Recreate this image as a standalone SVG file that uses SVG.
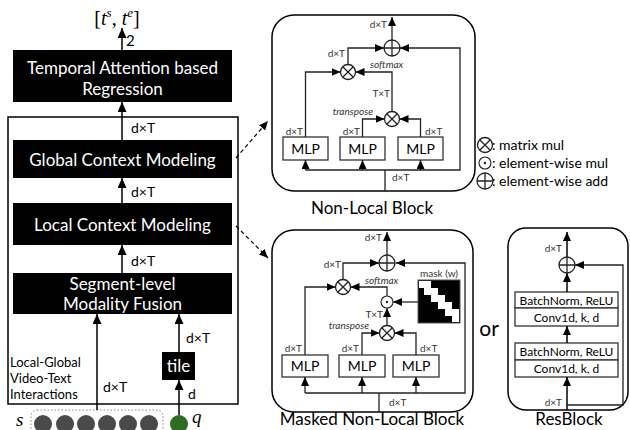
<svg xmlns="http://www.w3.org/2000/svg" width="630" height="430" viewBox="0 0 630 430">
<style>
text{font-family:Lato,"Open Sans","Liberation Sans",sans-serif;fill:#000}
.blk{fill:#000}
.wt{fill:#fff;font-size:17px;text-anchor:middle}
.ln{stroke:#000;stroke-width:1.5;fill:none}
.sl{stroke:#222;stroke-width:1.3;fill:none}
.lbl{font-size:14px}
.sm{font-size:10px;fill:#333}
.it{font-size:10px;font-style:italic;fill:#333}
.box{fill:#fff;stroke:#333;stroke-width:1.3}
.mlp{font-size:14px;text-anchor:middle}
.rb{font-size:12px;text-anchor:middle}
.frame{fill:none;stroke:#000;stroke-width:1.5}
.cap{font-size:17px;text-anchor:middle}
.dash{stroke:#000;stroke-width:1.2;stroke-dasharray:4,3;fill:none}
.end{text-anchor:end}
.leg{font-size:14px}
</style>
<defs>
<marker id="ab" markerUnits="userSpaceOnUse" markerWidth="10" markerHeight="9" refX="10" refY="4.5" orient="auto"><path d="M0,0 L10,4.5 L0,9 z" fill="#000"/></marker>
<marker id="as" markerUnits="userSpaceOnUse" markerWidth="9" markerHeight="8" refX="9" refY="4" orient="auto"><path d="M0,0 L9,4 L0,8 z" fill="#000"/></marker>
<g id="otimes"><circle r="7.5" fill="#fff" stroke="#222" stroke-width="1.3"/><path d="M-5.3,-5.3 L5.3,5.3 M-5.3,5.3 L5.3,-5.3" stroke="#222" stroke-width="1.3"/></g>
<g id="oplus"><circle r="8" fill="#fff" stroke="#222" stroke-width="1.3"/><path d="M-8,0 L8,0 M0,-8 L0,8" stroke="#222" stroke-width="1.3"/></g>
<g id="odot"><circle r="6" fill="#fff" stroke="#222" stroke-width="1.1"/><circle r="1.2" fill="#222"/></g>
</defs>

<g id="output">
<text x="117" y="25" text-anchor="middle" style="font-family:'Liberation Serif',serif;font-size:20px">[<tspan font-style="italic">t</tspan><tspan font-style="italic" font-size="13" dy="-8">s</tspan><tspan dy="8">, </tspan><tspan font-style="italic">t</tspan><tspan font-style="italic" font-size="13" dy="-8">e</tspan><tspan dy="8">]</tspan></text>
</g>

<g id="regression">
<rect class="blk" x="13" y="50" width="219" height="52"/>
<text class="wt" x="122.5" y="74">Temporal Attention based</text>
<text class="wt" x="122.5" y="95">Regression</text>
</g>

<g id="interactions">
<rect class="frame" x="8" y="117" width="230" height="287"/>
<text x="10" y="367" font-size="13">Local-Global</text>
<text x="10" y="383" font-size="13">Video-Text</text>
<text x="10" y="399" font-size="13">Interactions</text>
</g>

<g id="global">
<rect class="blk" x="13" y="140" width="219" height="38"/>
<text class="wt" x="122.5" y="166">Global Context Modeling</text>
</g>

<g id="local">
<rect class="blk" x="13" y="203" width="219" height="42"/>
<text class="wt" x="122.5" y="231">Local Context Modeling</text>
</g>

<g id="fusion">
<rect class="blk" x="13" y="273" width="219" height="41"/>
<text class="wt" x="122.5" y="290">Segment-level</text>
<text class="wt" x="122.5" y="310">Modality Fusion</text>
</g>

<g id="tile">
<rect class="blk" x="162" y="352" width="33" height="28"/>
<text class="wt" x="178.5" y="372">tile</text>
</g>

<g id="inputs">
<text x="16" y="426" style="font-family:'Liberation Serif',serif;font-size:19px;font-style:italic">s</text>
<rect x="31" y="410" width="132" height="28" rx="6" fill="none" stroke="#888" stroke-width="1" stroke-dasharray="1.5,2"/>
<circle cx="43" cy="424" r="9" fill="#4a4a4a"/>
<circle cx="65" cy="424" r="9" fill="#4a4a4a"/>
<circle cx="86" cy="424" r="9" fill="#4a4a4a"/>
<circle cx="107" cy="424" r="9" fill="#4a4a4a"/>
<circle cx="128" cy="424" r="9" fill="#4a4a4a"/>
<circle cx="149" cy="424" r="9" fill="#4a4a4a"/>
<circle cx="179" cy="424" r="9" fill="#2f6b20"/>
<text x="192" y="423" style="font-family:'Liberation Serif',serif;font-size:19px;font-style:italic">q</text>
</g>

<g id="connectors">
<line class="ln" x1="122" y1="50" x2="122" y2="28" marker-end="url(#ab)"/>
<text x="126" y="46" font-size="15">2</text>
<line class="ln" x1="122" y1="140" x2="122" y2="102" marker-end="url(#ab)"/>
<text class="lbl" x="131" y="133">d×T</text>
<line class="ln" x1="122" y1="203" x2="122" y2="178" marker-end="url(#ab)"/>
<text class="lbl" x="131" y="197">d×T</text>
<line class="ln" x1="122" y1="273" x2="122" y2="245" marker-end="url(#ab)"/>
<text class="lbl" x="131" y="266">d×T</text>
<line class="ln" x1="97" y1="410" x2="97" y2="314" marker-end="url(#ab)"/>
<text class="lbl" x="103" y="392">d×T</text>
<line class="ln" x1="179" y1="415" x2="179" y2="380" marker-end="url(#ab)"/>
<text class="lbl" x="188" y="399">d</text>
<line class="ln" x1="179" y1="352" x2="179" y2="314" marker-end="url(#ab)"/>
<text class="lbl" x="186" y="343">d×T</text>
<line class="dash" x1="236" y1="158" x2="268" y2="121" marker-end="url(#as)"/>
<line class="dash" x1="236" y1="226" x2="268" y2="258" marker-end="url(#as)"/>
</g>

<g id="nonlocal">
<rect class="frame" x="272" y="15" width="203" height="176" rx="22"/>
<rect class="box" x="283" y="137" width="45" height="23"/>
<rect class="box" x="340" y="137" width="45" height="23"/>
<rect class="box" x="398" y="137" width="45" height="23"/>
<text class="mlp" x="305.5" y="154">MLP</text>
<text class="mlp" x="362.5" y="154">MLP</text>
<text class="mlp" x="420.5" y="154">MLP</text>
<path class="sl" d="M385,191 V170 M305.5,170 H460 V48 H400" marker-end="url(#as)"/>
<line class="sl" x1="305.5" y1="170" x2="305.5" y2="160" marker-end="url(#as)"/>
<line class="sl" x1="362.5" y1="170" x2="362.5" y2="160" marker-end="url(#as)"/>
<line class="sl" x1="420.5" y1="170" x2="420.5" y2="160" marker-end="url(#as)"/>
<path class="sl" d="M305.5,137 V72 H340.5" marker-end="url(#as)"/>
<path class="sl" d="M362.5,137 V119 H384.5" marker-end="url(#as)"/>
<path class="sl" d="M420.5,137 V119 H399.5" marker-end="url(#as)"/>
<path class="sl" d="M392,111.5 V72 H355.5" marker-end="url(#as)"/>
<path class="sl" d="M348,64.5 V48 H384" marker-end="url(#as)"/>
<line class="sl" x1="392" y1="40" x2="392" y2="17" marker-end="url(#as)"/>
<use href="#otimes" x="348" y="72"/>
<use href="#otimes" x="392" y="119"/>
<use href="#oplus" x="392" y="48"/>
<text class="sm end" x="387" y="28">d×T</text>
<text class="sm end" x="345" y="57">d×T</text>
<text class="it" x="370" y="68">softmax</text>
<text class="sm end" x="390" y="97">T×T</text>
<text class="it end" x="373" y="115">transpose</text>
<text class="sm end" x="303" y="135">d×T</text>
<text class="sm end" x="360" y="135">d×T</text>
<text class="sm" x="425" y="135">d×T</text>
<text class="sm" x="392" y="181">d×T</text>
<text class="cap" x="372" y="214">Non-Local Block</text>
</g>

<g id="legend">
<use href="#otimes" x="485" y="145"/>
<text class="leg" x="492" y="150">: matrix mul</text>
<use href="#odot" x="485" y="163"/>
<text class="leg" x="492" y="168">: element-wise mul</text>
<use href="#oplus" x="485" y="181"/>
<text class="leg" x="492" y="186">: element-wise add</text>
</g>

<g id="masked">
<rect class="frame" x="272" y="230" width="201" height="182" rx="22"/>
<rect class="box" x="282" y="355" width="46" height="22"/>
<rect class="box" x="339" y="355" width="46" height="22"/>
<rect class="box" x="393" y="355" width="46" height="22"/>
<text class="mlp" x="305" y="371">MLP</text>
<text class="mlp" x="362" y="371">MLP</text>
<text class="mlp" x="416" y="371">MLP</text>
<path class="sl" d="M379,412 V393 M305,393 H465 V263 H396" marker-end="url(#as)"/>
<line class="sl" x1="305" y1="393" x2="305" y2="377" marker-end="url(#as)"/>
<line class="sl" x1="362" y1="393" x2="362" y2="377" marker-end="url(#as)"/>
<line class="sl" x1="416" y1="393" x2="416" y2="377" marker-end="url(#as)"/>
<path class="sl" d="M305,355 V287 H335.5" marker-end="url(#as)"/>
<path class="sl" d="M362,355 V333 H379.5" marker-end="url(#as)"/>
<path class="sl" d="M416,355 V333 H394.5" marker-end="url(#as)"/>
<line class="sl" x1="387" y1="325.5" x2="387" y2="308" marker-end="url(#as)"/>
<path class="sl" d="M387,296 V287 H350.5" marker-end="url(#as)"/>
<line class="sl" x1="418" y1="302" x2="393" y2="302" marker-end="url(#as)"/>
<path class="sl" d="M343,279.5 V263 H379" marker-end="url(#as)"/>
<line class="sl" x1="387" y1="255" x2="387" y2="232" marker-end="url(#as)"/>
<use href="#otimes" x="343" y="287"/>
<use href="#otimes" x="387" y="333"/>
<use href="#odot" x="387" y="302"/>
<use href="#oplus" x="387" y="263"/>
<g id="mask">
<rect x="418" y="280" width="42" height="43" fill="#000" stroke="#555" stroke-width="1"/>
<path fill="#fff" d="M419,281 H431 V288 H438 V295 H445 V302 H452 V309 H459 V322 H452 V316 H445 V309 H438 V302 H431 V295 H424 V288 H419 Z"/>
</g>
<text class="sm" x="439" y="277" text-anchor="middle" font-size="11">mask (w)</text>
<text class="sm end" x="382" y="241">d×T</text>
<text class="sm end" x="341" y="268">d×T</text>
<text class="it" x="365" y="284">softmax</text>
<text class="sm end" x="383" y="318">T×T</text>
<text class="it end" x="369" y="329">transpose</text>
<text class="sm end" x="302" y="352">d×T</text>
<text class="sm end" x="359" y="352">d×T</text>
<text class="sm" x="420" y="352">d×T</text>
<text class="sm" x="389" y="406">d×T</text>
<text class="cap" x="372" y="425">Masked Non-Local Block</text>
</g>

<text x="489" y="336" font-size="21" text-anchor="middle">or</text>

<g id="resblock">
<rect class="frame" x="508" y="228" width="120" height="182" rx="18"/>
<rect class="box" x="515" y="292" width="103" height="16"/>
<rect class="box" x="515" y="308" width="103" height="18"/>
<rect class="box" x="515" y="343" width="103" height="17"/>
<rect class="box" x="515" y="360" width="103" height="17"/>
<text class="rb" x="566.5" y="304.5">BatchNorm, ReLU</text>
<text class="rb" x="566.5" y="321.5">Conv1d, k, d</text>
<text class="rb" x="566.5" y="355.5">BatchNorm, ReLU</text>
<text class="rb" x="566.5" y="372.5">Conv1d, k, d</text>
<line class="ln" x1="567" y1="410" x2="567" y2="377" marker-end="url(#as)"/>
<line class="ln" x1="567" y1="343" x2="567" y2="326" marker-end="url(#as)"/>
<line class="ln" x1="567" y1="292" x2="567" y2="273" marker-end="url(#as)"/>
<line class="ln" x1="567" y1="257" x2="567" y2="232" marker-end="url(#as)"/>
<path class="sl" d="M567,405 H623 V265 H575" marker-end="url(#as)"/>
<use href="#oplus" x="567" y="265"/>
<text class="sm end" x="562" y="252">d×T</text>
<text class="sm end" x="562" y="406">d×T</text>
<text class="cap" x="569" y="425">ResBlock</text>
</g>
</svg>
